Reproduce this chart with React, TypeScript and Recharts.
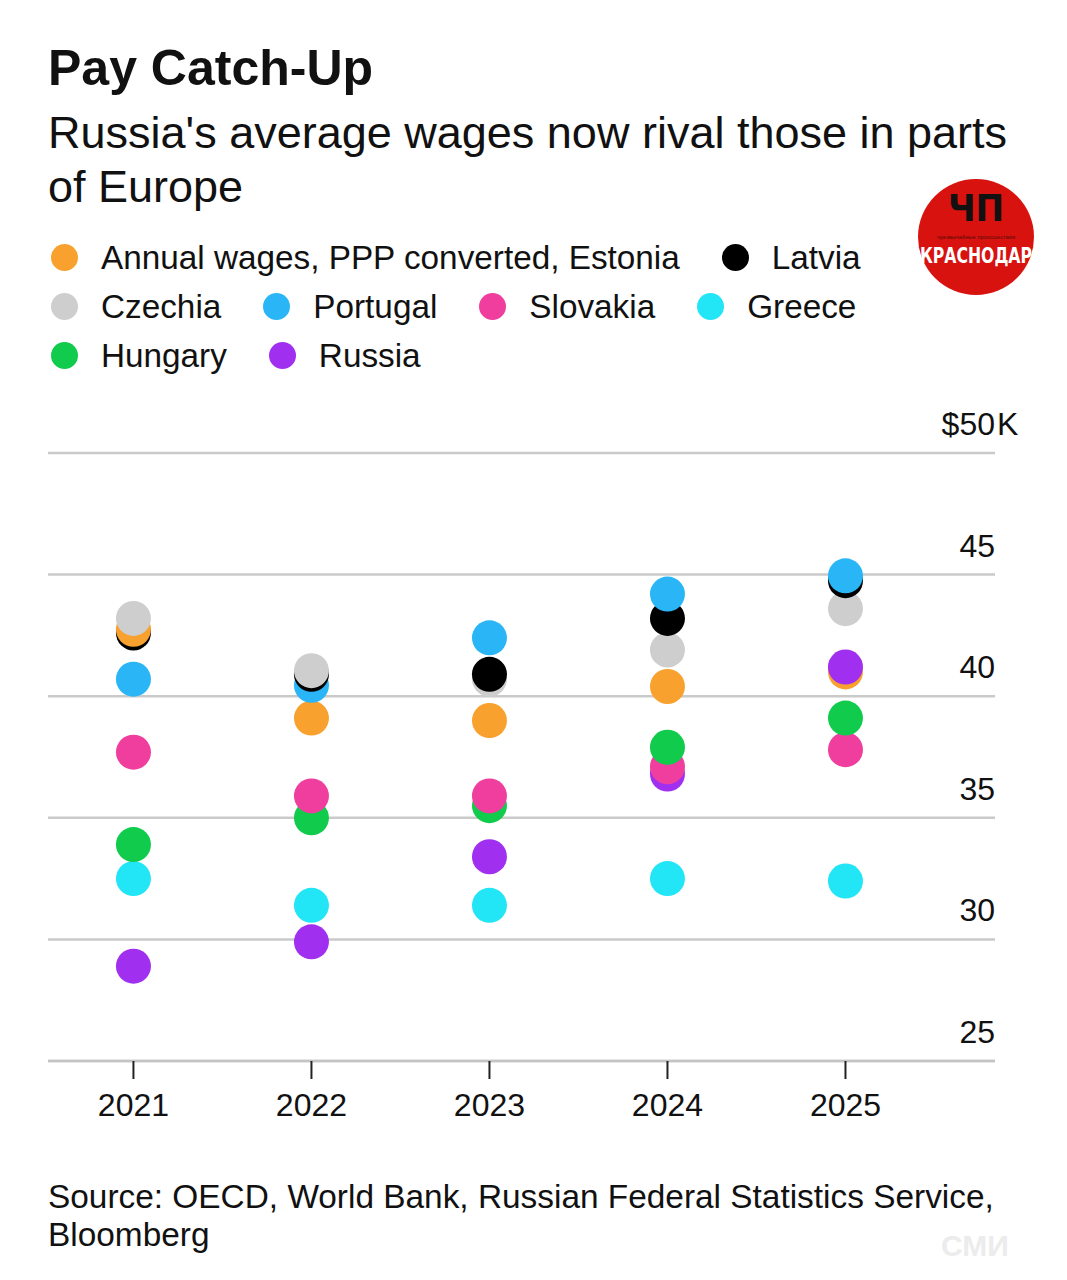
import React from "react";
import {
  CartesianGrid,
  Cell,
  Scatter,
  ScatterChart,
  XAxis,
  YAxis,
} from "recharts";

// Annual wages, PPP converted, thousands of US dollars
const years = [2021, 2022, 2023, 2024, 2025];
const estonia = [42.75, 39.1, 39.0, 40.4, 41.0];
const latvia = [42.6, 40.9, 40.9, 43.2, 44.75];
const czechia = [43.2, 41.05, 40.7, 41.9, 43.6];
const portugal = [40.7, 40.45, 42.4, 44.2, 44.95];
const slovakia = [37.7, 35.9, 35.9, 37.1, 37.8];
const greece = [32.5, 31.4, 31.4, 32.5, 32.4];
const hungary = [33.9, 35.0, 35.5, 37.9, 39.1];
const russia = [28.9, 29.9, 33.4, 36.8, 41.2];

const yTicks = [25, 30, 35, 40, 45, 50];

const series = [
  { key: "estonia", label: "Annual wages, PPP converted, Estonia", values: estonia },
  { key: "latvia", label: "Latvia", values: latvia },
  { key: "czechia", label: "Czechia", values: czechia },
  { key: "portugal", label: "Portugal", values: portugal },
  { key: "slovakia", label: "Slovakia", values: slovakia },
  { key: "greece", label: "Greece", values: greece },
  { key: "hungary", label: "Hungary", values: hungary },
  { key: "russia", label: "Russia", values: russia },
];

const COLOURS: Record<string, string> = {
  estonia: "#F9A12E",
  latvia: "#000000",
  czechia: "#CECECE",
  portugal: "#2AB6F6",
  slovakia: "#F03E9E",
  greece: "#22E5F6",
  hungary: "#10CB4C",
  russia: "#A12FEF",
};

// legend rows as laid out in the original
const legendRows = [
  ["estonia", "latvia"],
  ["czechia", "portugal", "slovakia", "greece"],
  ["hungary", "russia"],
];

// one flat table, lowest values first so the higher dot sits on top
const points = series
  .flatMap((s) => s.values.map((v, i) => ({ year: years[i], value: v, key: s.key })))
  .sort((a, b) => a.value - b.value);

const FONT = '"Liberation Sans", Arial, Helvetica, sans-serif';
const CONDENSED = '"DejaVu Sans Condensed", "DejaVu Sans", sans-serif';
const DOT_R = 17.5;

function YTick(props: any) {
  const { x, y, payload } = props;
  const v = payload.value;
  if (v === 50) {
    // the "K" hangs past the right edge of the number column
    return (
      <g>
        <text x={x} y={y - 18} textAnchor="end" fontSize={32} fill="#111" fontFamily={FONT}>
          $50
        </text>
        <text x={x + 2} y={y - 18} textAnchor="start" fontSize={32} fill="#111" fontFamily={FONT}>
          K
        </text>
      </g>
    );
  }
  return (
    <text x={x} y={y - 18} textAnchor="end" fontSize={32} fill="#111" fontFamily={FONT}>
      {v}
    </text>
  );
}

export default function App() {
  const byKey = Object.fromEntries(series.map((s) => [s.key, s]));
  return (
    <div
      style={{
        position: "relative",
        width: 1067,
        height: 1280,
        background: "#fff",
        fontFamily: FONT,
        color: "#111",
        overflow: "hidden",
      }}
    >
      <style>{"body{margin:0;background:#fff}"}</style>

      <svg width={1067} height={1280} style={{ position: "absolute", left: 0, top: 0 }}>
        <text x={48} y={85} fontSize={50} fontWeight={700} fill="#111" fontFamily={FONT}>
          Pay Catch-Up
        </text>
        <text x={48} y={148} fontSize={45} fill="#111" fontFamily={FONT}>
          Russia's average wages now rival those in parts
        </text>
        <text x={48} y={202} fontSize={45} fill="#111" fontFamily={FONT}>
          of Europe
        </text>

        {/* watermark logo */}
        <circle cx={976} cy={237} r={58} fill="#D8120F" />
        <text x={976} y={221} textAnchor="middle" fontSize={38} fontWeight={700} fill="#111" fontFamily={CONDENSED}>
          ЧП
        </text>
        <text
          x={976}
          y={239}
          textAnchor="middle"
          fontSize={5}
          fill="#5a0a08"
          fontFamily={FONT}
          textLength={78}
          lengthAdjust="spacingAndGlyphs"
        >
          чрезвычайные происшествия
        </text>
        <text
          x={976}
          y={263}
          textAnchor="middle"
          fontSize={22}
          fontWeight={700}
          fill="#fff"
          fontFamily={CONDENSED}
          textLength={112}
          lengthAdjust="spacingAndGlyphs"
        >
          КРАСНОДАР
        </text>

        <text x={48} y={1208} fontSize={33.4} fill="#111" fontFamily={FONT}>
          Source: OECD, World Bank, Russian Federal Statistics Service,
        </text>
        <text x={48} y={1246} fontSize={33.4} fill="#111" fontFamily={FONT}>
          Bloomberg
        </text>
        <text x={975} y={1256} textAnchor="middle" fontSize={30} fontWeight={700} fill="#ececec" fontFamily={FONT}>
          СМИ
        </text>
      </svg>

      <div style={{ position: "absolute", left: 51, top: 233 }}>
        {legendRows.map((row, ri) => (
          <div key={ri} style={{ display: "flex", alignItems: "center", height: 49 }}>
            {row.map((k) => (
              <div key={k} style={{ display: "flex", alignItems: "center", marginRight: 42 }}>
                <span
                  style={{
                    width: 27,
                    height: 27,
                    borderRadius: "50%",
                    background: COLOURS[k],
                    marginRight: 23,
                    flex: "none",
                  }}
                />
                <span style={{ fontSize: 33.3, lineHeight: "49px", whiteSpace: "nowrap" }}>
                  {byKey[k].label}
                </span>
              </div>
            ))}
          </div>
        ))}
      </div>

      <div style={{ position: "absolute", left: 0, top: 400 }}>
        <ScatterChart
          width={1067}
          height={740}
          margin={{ top: 53, right: 0, bottom: 0, left: 48 }}
        >
          <CartesianGrid vertical={false} stroke="#CACACA" strokeWidth={2.5} />
          <XAxis
            type="number"
            dataKey="year"
            domain={[2020.52, 2025.84]}
            ticks={years}
            allowDataOverflow
            height={79}
            tickSize={18}
            tickMargin={14}
            tickLine={{ stroke: "#222", strokeWidth: 2 }}
            axisLine={{ stroke: "#C4C4C4", strokeWidth: 2.5 }}
            tick={{ fill: "#111", fontSize: 32, fontFamily: FONT }}
          />
          <YAxis
            type="number"
            dataKey="value"
            orientation="right"
            domain={[25, 50]}
            ticks={yTicks}
            width={72}
            tickSize={0}
            tickMargin={0}
            tickLine={false}
            axisLine={false}
            tick={<YTick />}
          />
          <Scatter
            data={points}
            isAnimationActive={false}
            shape={(p: any) => <circle cx={p.cx} cy={p.cy} r={DOT_R} fill={p.fill} />}
          >
            {points.map((p, i) => (
              <Cell key={i} fill={COLOURS[p.key]} />
            ))}
          </Scatter>
        </ScatterChart>
      </div>
    </div>
  );
}
